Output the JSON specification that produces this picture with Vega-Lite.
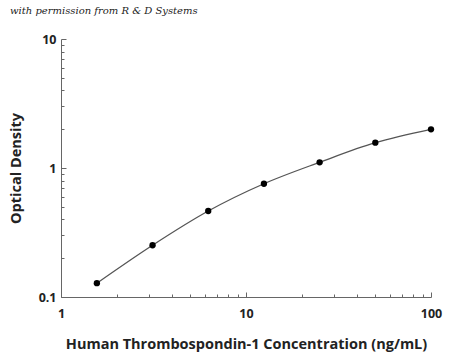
{
  "$schema": "https://vega.github.io/schema/vega-lite/v6.json",
  "width": 370,
  "height": 258,
  "autosize": "none",
  "padding": {"left": 61, "top": 39, "right": 19, "bottom": 59},
  "background": "white",
  "title": {
    "text": "with permission from R & D Systems",
    "anchor": "start",
    "frame": "group",
    "dx": -51,
    "offset": 17,
    "font": "DejaVu Serif",
    "fontStyle": "italic",
    "fontWeight": "normal",
    "fontSize": 10,
    "color": "#222"
  },
  "config": {
    "view": {"stroke": null},
    "axis": {
      "domainColor": "#666",
      "tickColor": "#666",
      "grid": false,
      "labelFont": "Open Sans",
      "labelFontWeight": "bold",
      "labelFontSize": 12.5,
      "labelColor": "#222",
      "titleFont": "Open Sans",
      "titleFontWeight": "bold",
      "titleFontSize": 14.5,
      "titleColor": "#222"
    }
  },
  "data": {
    "values": [
      {"conc": 1.5625, "od": 0.128},
      {"conc": 3.125, "od": 0.252},
      {"conc": 6.25, "od": 0.464},
      {"conc": 12.5, "od": 0.755},
      {"conc": 25, "od": 1.107},
      {"conc": 50, "od": 1.571},
      {"conc": 100, "od": 1.995}
    ]
  },
  "encoding": {
    "x": {
      "field": "conc",
      "type": "quantitative",
      "scale": {"type": "log", "domain": [1, 100], "nice": false},
      "axis": {
        "title": "Human Thrombospondin-1 Concentration (ng/mL)",
        "values": [1,2,3,4,5,6,7,8,9,10,20,30,40,50,60,70,80,90,100],
        "labelExpr": "(datum.value == 1 || datum.value == 10 || datum.value == 100) ? datum.label : ''",
        "tickSize": {"condition": {"test": "datum.value == 1 || datum.value == 10 || datum.value == 100", "value": -5}, "value": -3},
        "labelPadding": 15,
        "titlePadding": 18,
        "labelFlush": false
      }
    },
    "y": {
      "field": "od",
      "type": "quantitative",
      "scale": {"type": "log", "domain": [0.1, 10], "nice": false},
      "axis": {
        "title": "Optical Density",
        "values": [0.1,0.2,0.3,0.4,0.5,0.6,0.7,0.8,0.9,1,2,3,4,5,6,7,8,9,10],
        "labelExpr": "(datum.value == 0.1 || datum.value == 1 || datum.value == 10) ? datum.label : ''",
        "tickSize": {"condition": {"test": "datum.value == 0.1 || datum.value == 1 || datum.value == 10", "value": -5}, "value": -3},
        "labelPadding": 10,
        "titlePadding": 15,
        "labelFlush": false
      }
    }
  },
  "layer": [
    {
      "mark": {"type": "line", "interpolate": "monotone", "color": "#555", "strokeWidth": 1.3}
    },
    {
      "mark": {"type": "circle", "color": "black", "opacity": 1, "size": 40}
    }
  ]
}
